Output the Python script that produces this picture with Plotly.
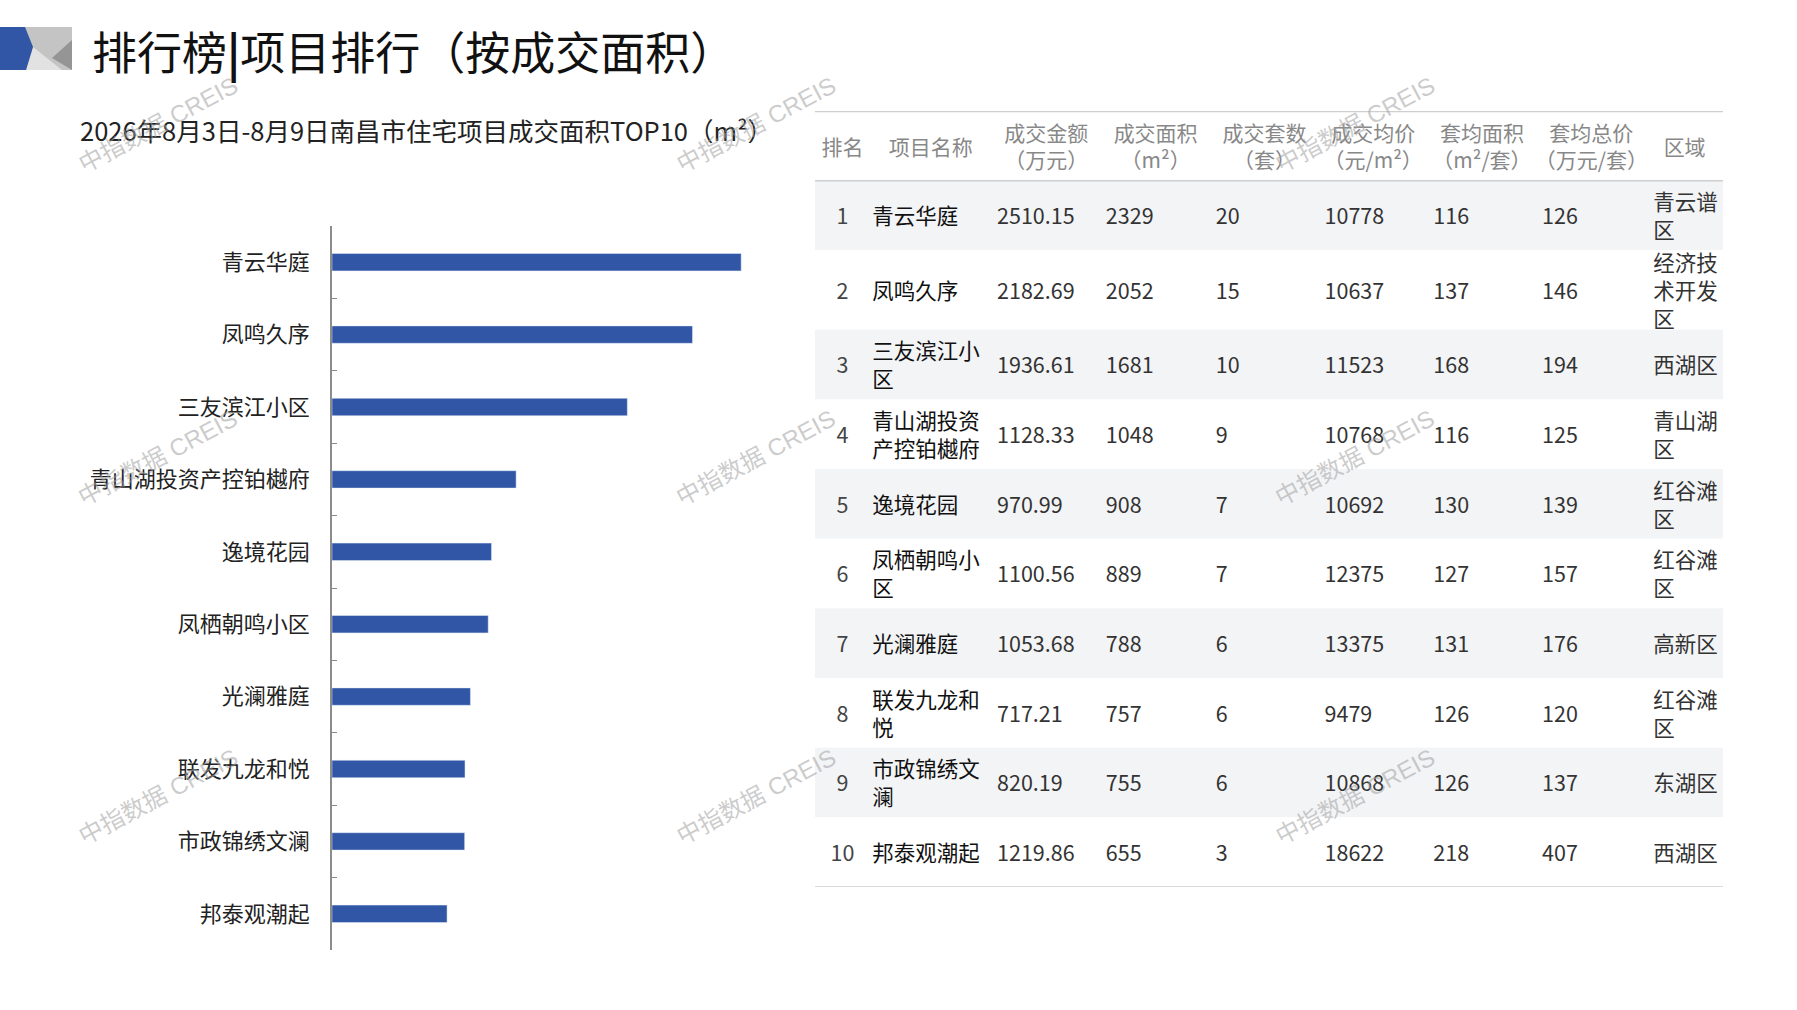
import plotly.graph_objects as go

W, H = 1797, 1010

# ---- data ----
ranks = [1, 2, 3, 4, 5, 6, 7, 8, 9, 10]
names = ["青云华庭", "凤鸣久序", "三友滨江小区", "青山湖投资产控铂樾府", "逸境花园",
         "凤栖朝鸣小区", "光澜雅庭", "联发九龙和悦", "市政锦绣文澜", "邦泰观潮起"]
amount = [2510.15, 2182.69, 1936.61, 1128.33, 970.99, 1100.56, 1053.68, 717.21, 820.19, 1219.86]
area = [2329, 2052, 1681, 1048, 908, 889, 788, 757, 755, 655]
units = [20, 15, 10, 9, 7, 7, 6, 6, 6, 3]
avg_price = [10778, 10637, 11523, 10768, 10692, 12375, 13375, 9479, 10868, 18622]
avg_area = [116, 137, 168, 116, 130, 127, 131, 126, 126, 218]
avg_total = [126, 146, 194, 125, 139, 157, 176, 120, 137, 407]
district = ["青云谱区", "经济技术开发区", "西湖区", "青山湖区", "红谷滩区",
            "红谷滩区", "高新区", "红谷滩区", "东湖区", "西湖区"]
headers = ["排名", "项目名称", "成交金额<br>（万元）", "成交面积<br>（m²）", "成交套数<br>（套）",
           "成交均价<br>（元/m²）", "套均面积<br>（m²/套）", "套均总价<br>（万元/套）", "区域"]

title = "排行榜<b>|</b>项目排行（按成交面积）"
subtitle = "2026年8月3日-8月9日南昌市住宅项目成交面积TOP10（m²）"
watermark = "中指数据 CREIS"

BLUE = "#3056a5"
FONT = "Noto Sans CJK SC"


def px(x):
    return x / W


def py(y):
    return 1 - y / H


def wrap(s, n):
    return "<br>".join(s[i:i + n] for i in range(0, len(s), n))


fig = go.Figure()

# bar chart
fig.add_trace(go.Bar(x=area, y=names, orientation="h", marker_color=BLUE,
                     width=0.24, xaxis="x", yaxis="y", hoverinfo="skip"))

# table laid out on its own axes
col_w = [48, 106, 96, 95, 95, 95, 95, 96, 67]
col_l = [sum(col_w[:i]) for i in range(len(col_w))]
tot_w = sum(col_w)

name_txt = [wrap(s, 5) for s in names]
dist_txt = [wrap(s, 3) for s in district]
row_h = [1.14 if max(a.count("<br>"), b.count("<br>")) >= 2 else 1.0
         for a, b in zip(name_txt, dist_txt)]
tops = [1.0 + sum(row_h[:i]) for i in range(len(row_h))]
mids = [t + h / 2 for t, h in zip(tops, row_h)]
tot_h = 1.0 + sum(row_h)
dy = 0.05  # nudge text a little down to sit centred like the original

fig.add_trace(go.Bar(x=[tot_w] * len(mids), y=mids, base=0, width=row_h, orientation="h",
                     marker=dict(color=["#f3f4f6" if i % 2 == 0 else "white" for i in range(len(mids))],
                                 line_width=0),
                     xaxis="x2", yaxis="y2", hoverinfo="skip"))

fig.add_trace(go.Scatter(x=[l + w / 2 for l, w in zip(col_l, col_w)], y=[0.5 + dy] * len(headers),
                         text=headers, mode="text", textposition="middle center",
                         textfont=dict(family=FONT, size=21, color="#888888"),
                         xaxis="x2", yaxis="y2", hoverinfo="skip"))

cols = [
    ([str(r) for r in ranks], "#444444", "center", 0),
    (name_txt, "#111111", "right", 2),
    (["%.2f" % v for v in amount], "#333333", "right", 5),
    ([str(v) for v in area], "#333333", "right", 4),
    ([str(v) for v in units], "#333333", "right", 5),
    ([str(v) for v in avg_price], "#333333", "right", 5),
    ([str(v) for v in avg_area], "#333333", "right", 5),
    ([str(v) for v in avg_total], "#333333", "right", 5),
    (dist_txt, "#333333", "right", 6),
]
for i, (txt, color, pos, pad) in enumerate(cols):
    xpos = col_l[i] + col_w[i] / 2 if pos == "center" else col_l[i] + pad
    fig.add_trace(go.Scatter(x=[xpos] * len(txt), y=[m + dy for m in mids], text=txt, mode="text",
                             textposition="middle " + pos,
                             textfont=dict(family=FONT, size=21.5, color=color),
                             xaxis="x2", yaxis="y2", hoverinfo="skip"))

shapes = []
for yv, lw in [(0, 2.5), (1.0, 1.5), (tot_h, 1.5)]:
    shapes.append(dict(type="line", xref="x2", yref="y2", x0=0, x1=tot_w, y0=yv, y1=yv,
                       line=dict(color="#cfcfcf", width=lw)))

# logo at top left
shapes += [
    dict(type="rect", xref="paper", yref="paper", x0=px(0), x1=px(72), y0=py(70), y1=py(27),
         fillcolor="#c4c4c4", line_width=0),
    dict(type="path", xref="paper", yref="paper",
         path="M %f %f L %f %f L %f %f Z" % (px(26), py(70), px(33), py(47), px(62), py(70)),
         fillcolor="#e2e2e2", line_width=0),
    dict(type="path", xref="paper", yref="paper",
         path="M %f %f L %f %f L %f %f Z" % (px(52), py(58), px(72), py(40), px(72), py(70)),
         fillcolor="#959595", line_width=0),
    dict(type="path", xref="paper", yref="paper",
         path="M %f %f L %f %f L %f %f L %f %f L %f %f Z" % (
             px(0), py(27), px(25), py(27), px(33), py(47), px(26), py(70), px(0), py(70)),
         fillcolor=BLUE, line_width=0),
]

annotations = [
    dict(text=title, x=px(90), y=py(50), xref="paper", yref="paper", xanchor="left", yanchor="middle",
         showarrow=False, font=dict(family=FONT, size=45, color="#111111")),
    dict(text=subtitle, x=px(78), y=py(129), xref="paper", yref="paper", xanchor="left", yanchor="middle",
         showarrow=False, font=dict(family=FONT, size=25.5, color="#222222")),
]
for wy in [124, 458, 796]:
    for wx in [158, 756, 1355]:
        annotations.append(dict(text=watermark, x=px(wx), y=py(wy), xref="paper", yref="paper",
                                xanchor="center", yanchor="middle",
                                showarrow=False, textangle=-28,
                                font=dict(family="Liberation Sans, " + FONT, size=24,
                                          color="rgba(160,160,160,0.55)")))

fig.update_layout(
    width=W, height=H, margin=dict(l=0, r=0, t=0, b=0),
    paper_bgcolor="white", plot_bgcolor="white", showlegend=False,
    xaxis=dict(domain=[px(332), px(780)], range=[0, 2550], visible=False),
    yaxis=dict(domain=[py(950), py(226)], type="category", autorange="reversed",
               showline=True, linecolor="#8c8c8c", linewidth=1.5,
               ticks="inside", tickson="boundaries", ticklen=5, tickcolor="#8c8c8c",
               ticklabelstandoff=16, showgrid=False,
               tickfont=dict(family=FONT, size=22, color="#222222")),
    xaxis2=dict(domain=[px(815), px(1723)], range=[0, tot_w], visible=False, anchor="y2"),
    yaxis2=dict(domain=[py(887), py(111)], range=[tot_h, 0], visible=False, anchor="x2"),
    shapes=shapes, annotations=annotations,
)

# page body margin would push the figure off its place
fig.write_html("out.html", config={"displayModeBar": False},
               post_script="document.body.style.margin='0';")
